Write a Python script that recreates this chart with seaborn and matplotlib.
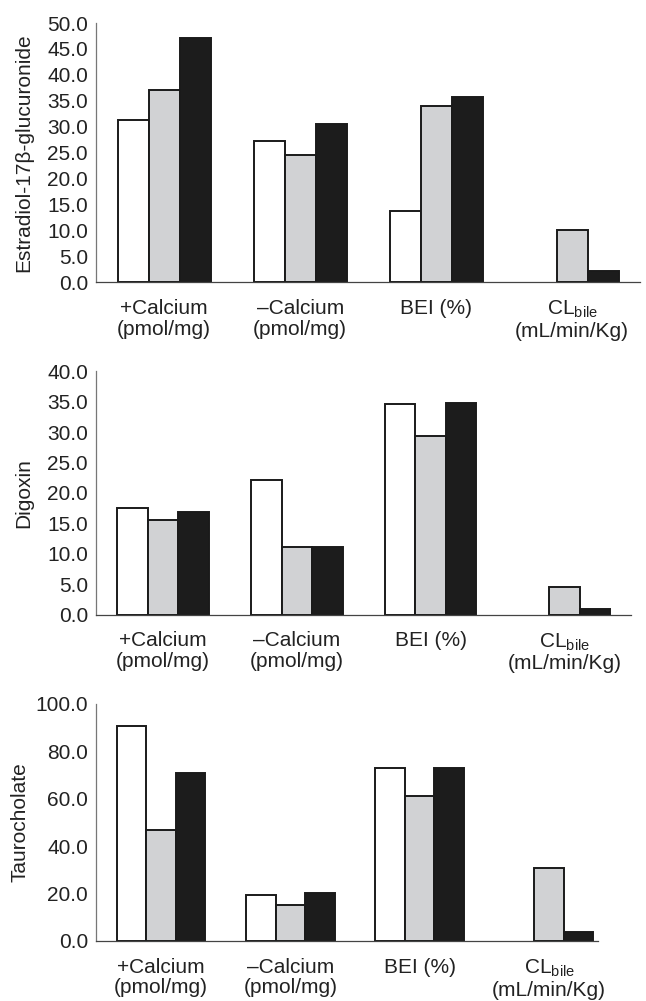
import numpy as np
import pandas as pd
import matplotlib
matplotlib.use('Agg')
import matplotlib.pyplot as plt
import seaborn as sns

# categories and series values
groups = ['+Calcium\n(pmol/mg)', '\u2013Calcium\n(pmol/mg)', 'BEI (%)',
          'CL$_{\\mathrm{bile}}$\n(mL/min/Kg)']
series = ['white', 'grey', 'black']

estradiol_white = [31.3, 27.2, 13.8, np.nan]
estradiol_grey = [37.0, 24.6, 34.0, 10.0]
estradiol_black = [47.1, 30.5, 35.7, 2.2]

digoxin_white = [17.6, 22.2, 34.7, np.nan]
digoxin_grey = [15.6, 11.1, 29.3, 4.5]
digoxin_black = [16.9, 11.2, 34.8, 0.9]

tauro_white = [90.8, 19.3, 72.7, np.nan]
tauro_grey = [46.9, 15.2, 61.3, 30.7]
tauro_black = [70.6, 20.3, 72.7, 3.8]

sns.set_style('white')
plt.rcParams['font.family'] = ['Liberation Sans', 'DejaVu Sans']
plt.rcParams['mathtext.fontset'] = 'custom'
plt.rcParams['mathtext.rm'] = 'Liberation Sans'
plt.rcParams['mathtext.it'] = 'Liberation Sans:italic'

fig = plt.figure(figsize=(6.46, 10.01), dpi=100)

panels = [
    ('Estradiol-17\u03b2-glucuronide', estradiol_white, estradiol_grey, estradiol_black,
     50, 5, [0.149, 0.718, 0.842, 0.259], 0.037, 3.5),
    ('Digoxin', digoxin_white, digoxin_grey, digoxin_black,
     40, 5, [0.149, 0.386, 0.828, 0.243], 0.036, 3.5),
    ('Taurocholate', tauro_white, tauro_grey, tauro_black,
     100, 20, [0.149, 0.060, 0.777, 0.237], 0.031, 3.38),
]

for label, white, grey, black, ymax, step, rect, lab_x, xmax in panels:
    ax = fig.add_axes(rect)
    df = pd.DataFrame({
        'group': groups * 3,
        'series': [s for s in series for _ in groups],
        'value': white + grey + black,
    })
    sns.barplot(data=df, x='group', y='value', hue='series', order=groups,
                hue_order=series, palette=['white', '#d1d2d4', '#1c1c1c'],
                saturation=1, edgecolor='#1a1a1a', linewidth=1.4, width=0.685,
                errorbar=None, legend=False, ax=ax)
    ax.set_xlim(-0.5, xmax)
    ax.set_ylim(0, ymax)
    ticks = np.arange(0, ymax + step / 2, step)
    ax.set_yticks(ticks)
    ax.set_yticklabels([f'{t:.1f}' for t in ticks])
    ax.set_xticks(range(len(groups)))
    ax.set_xticklabels(groups, va='top', linespacing=1.12)
    ax.tick_params(axis='y', length=0, labelsize=15, pad=6, colors='#222222')
    ax.tick_params(axis='x', length=0, labelsize=15, pad=12, colors='#222222')
    ax.set_xlabel('')
    ax.set_ylabel(label, fontsize=15, color='#222222', va='center')
    ax.yaxis.set_label_coords(lab_x, rect[1] + rect[3] / 2, transform=fig.transFigure)
    for side in ['top', 'right']:
        ax.spines[side].set_visible(False)
    ax.spines['left'].set_color('#777777')
    ax.spines['left'].set_linewidth(0.9)
    ax.spines['bottom'].set_color('#444444')
    ax.spines['bottom'].set_linewidth(0.9)

fig.savefig('out.png', dpi=100)
